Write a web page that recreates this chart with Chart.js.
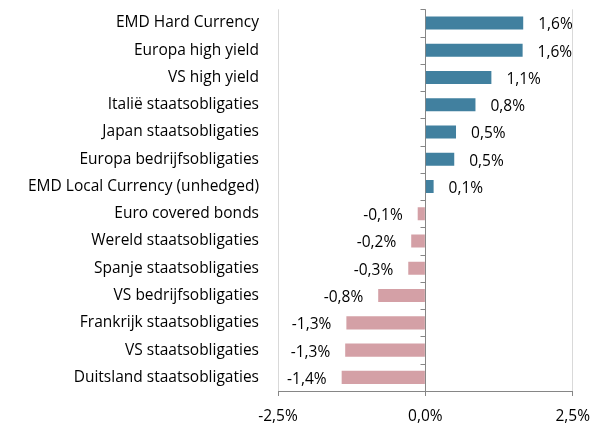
<!DOCTYPE html>
<html>
<head>
<meta charset="utf-8">
<script src="https://cdn.jsdelivr.net/npm/chart.js@4"></script>
<style>
  html, body { margin: 0; padding: 0; background: #fff; }
</style>
</head>
<body>
<canvas id="chart" width="601" height="425"></canvas>
<script>
// categorieën en rendementen (in %)
const categories = [
  "EMD Hard Currency",
  "Europa high yield",
  "VS high yield",
  "Italië staatsobligaties",
  "Japan staatsobligaties",
  "Europa bedrijfsobligaties",
  "EMD Local Currency (unhedged)",
  "Euro covered bonds",
  "Wereld staatsobligaties",
  "Spanje staatsobligaties",
  "VS bedrijfsobligaties",
  "Frankrijk staatsobligaties",
  "VS staatsobligaties",
  "Duitsland staatsobligaties"
];
const values = [1.66, 1.65, 1.12, 0.85, 0.52, 0.49, 0.14, -0.13, -0.24, -0.29, -0.80, -1.34, -1.36, -1.42];
const valueLabels = ["1,6%", "1,6%", "1,1%", "0,8%", "0,5%", "0,5%", "0,1%", "-0,1%", "-0,2%", "-0,3%", "-0,8%", "-1,3%", "-1,3%", "-1,4%"];
const xTickValues = [-2.5, 0, 2.5];
const xTickLabels = ["-2,5%", "0,0%", "2,5%"];

const FONT = "'Open Sans', sans-serif";
const FONT_SIZE = 15.5;
const AXIS_COLOR = "#868686";

// streepjes op de nul-as + waardelabels
const extras = {
  id: "extras",
  afterDatasetsDraw(chart) {
    const { ctx, scales: { x, y } } = chart;
    const x0 = Math.round(x.getPixelForValue(0)) + 0.5;
    ctx.save();
    ctx.strokeStyle = AXIS_COLOR;
    ctx.lineWidth = 1;
    ctx.beginPath();
    for (let i = 0; i <= categories.length; i++) {
      const py = Math.round(y.getPixelForValue(i - 0.5)) + 0.5;
      ctx.moveTo(x0 - 5, py);
      ctx.lineTo(x0, py);
    }
    ctx.stroke();

    ctx.font = FONT_SIZE + "px " + FONT;
    ctx.fillStyle = "#000";
    ctx.textBaseline = "middle";
    chart.getDatasetMeta(0).data.forEach((bar, i) => {
      const pos = values[i] >= 0;
      ctx.textAlign = pos ? "left" : "right";
      ctx.fillText(valueLabels[i], bar.x + (pos ? 15 : -15), bar.y + 2);
    });
    ctx.restore();
  }
};

new Chart(document.getElementById("chart"), {
  type: "bar",
  data: {
    labels: categories,
    datasets: [{
      data: values,
      backgroundColor: values.map(v => v >= 0 ? "#41809f" : "#d4a0a6"),
      barPercentage: 0.48,
      categoryPercentage: 1
    }]
  },
  options: {
    indexAxis: "y",
    responsive: false,
    animation: false,
    layout: { padding: { top: 0, right: 28, left: 0, bottom: 0 } },
    plugins: { legend: { display: false }, tooltip: { enabled: false } },
    scales: {
      x: {
        min: -2.5,
        max: 2.5,
        afterBuildTicks: (scale) => { scale.ticks = xTickValues.map(v => ({ value: v })); },
        ticks: {
          color: "#000",
          font: { family: FONT, size: FONT_SIZE },
          padding: 11,
          callback: (v) => xTickLabels[xTickValues.indexOf(v)]
        },
        grid: {
          color: (c) => c.tick && c.tick.value === 0 ? AXIS_COLOR : "#d9d9d9",
          tickColor: AXIS_COLOR,
          tickLength: 5
        },
        border: { color: AXIS_COLOR },
        afterFit: (scale) => { scale.height = 34; }
      },
      y: {
        grid: { drawOnChartArea: false, color: "rgba(0,0,0,0)", tickLength: 19 },
        border: { display: false },
        ticks: {
          color: "#000",
          font: { family: FONT, size: FONT_SIZE },
          padding: 0,
          autoSkip: false
        },
        afterFit: (scale) => { scale.width = 278; }
      }
    }
  },
  plugins: [extras]
});
</script>
</body>
</html>
